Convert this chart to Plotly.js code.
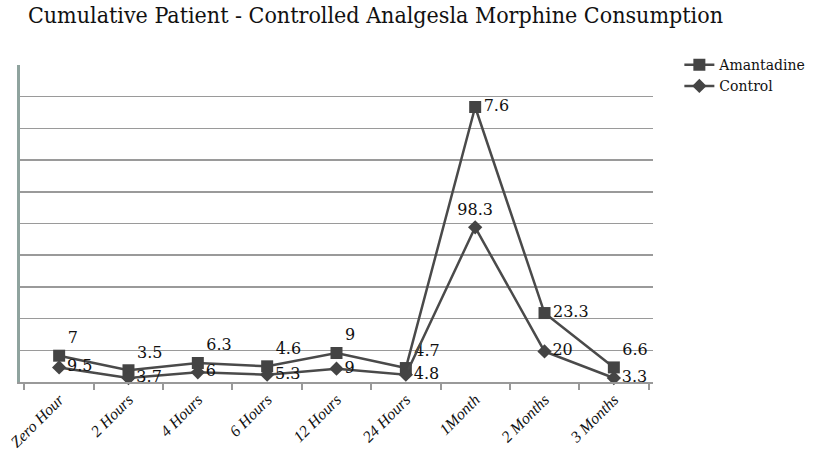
<!DOCTYPE html>
<html>
<head>
<meta charset="utf-8">
<script src="https://cdn.plot.ly/plotly-3.0.1.min.js"></script>
<style>html,body{margin:0;padding:0;background:#fff;}#chart{width:822px;height:471px;}</style>
</head>
<body>
<div id="chart"></div>
<script>
const categories = ["Zero Hour", "2 Hours", "4 Hours", "6 Hours", "12 Hours", "24 Hours", "1Month", "2 Months", "3 Months"];
const amantadineValues = [16.6, 7.4, 12.0, 9.9, 18.3, 8.8, 173.5, 43.5, 9.2];
const controlValues = [9.2, 2.5, 6.1, 4.6, 8.4, 4.6, 97.6, 19.3, 2.5];
const amantadineLabels = ["7", "3.5", "6.3", "4.6", "9", "4.7", "7.6", "23.3", "6.6"];
const controlLabels = ["9.5", "3.7", "6", "5.3", "9", "4.8", "98.3", "20", "3.3"];

const serif = "DejaVu Serif, Liberation Serif, serif";
const lineColor = "#4a4a4a";

const traces = [
  {
    x: categories, y: amantadineValues, name: "Amantadine", type: "scatter",
    mode: "lines+markers+text",
    text: amantadineLabels,
    textposition: ["top right","top right","top right","top right","top right","top right","middle right","middle right","top right"],
    textfont: {family: serif, size: 16, color: "#111"},
    line: {color: lineColor, width: 2.5},
    marker: {symbol: "square", size: 12, color: "#444"},
    cliponaxis: false
  },
  {
    x: categories, y: controlValues, name: "Control", type: "scatter",
    mode: "lines+markers+text",
    text: controlLabels,
    textposition: ["middle right","middle right","middle right","middle right","middle right","middle right","top center","middle right","middle right"],
    textfont: {family: serif, size: 16, color: "#111"},
    line: {color: lineColor, width: 2.5},
    marker: {symbol: "diamond", size: 11, color: "#444"},
    cliponaxis: false
  }
];

const layout = {
  width: 822, height: 471,
  margin: {l: 20, r: 168, t: 65, b: 89},
  paper_bgcolor: "#fff", plot_bgcolor: "#fff",
  title: {text: "Cumulative Patient - Controlled Analgesla Morphine Consumption",
          font: {family: "DejaVu Serif Condensed, DejaVu Serif, serif", size: 23, color: "#111"},
          x: 0.034, xanchor: "left", y: 0.985, yanchor: "top"},
  showlegend: true,
  legend: {x: 1.04, xanchor: "left", y: 1.05, yanchor: "top",
           font: {family: serif, size: 14, color: "#111"},
           bgcolor: "rgba(0,0,0,0)", tracegroupgap: 0, itemwidth: 30},
  xaxis: {
    type: "category", showgrid: false, showline: true, linecolor: "#999", linewidth: 2,
    ticks: "outside", ticklen: 6, tickcolor: "#999", tickwidth: 2,
    tickson: "boundaries",
    tickangle: -45, automargin: false,
    tickfont: {family: "Liberation Serif, serif", size: 16, color: "#111", style: "italic"},
    zeroline: false
  },
  yaxis: {
    range: [0, 200], dtick: 20, showticklabels: false, automargin: false,
    showgrid: true, gridcolor: "#9a9a9a", gridwidth: 1.5,
    showline: true, linecolor: "#8fa39e", linewidth: 3,
    zeroline: false, ticks: ""
  }
};

Plotly.newPlot("chart", traces, layout, {displayModeBar: false, staticPlot: true});
</script>
</body>
</html>
